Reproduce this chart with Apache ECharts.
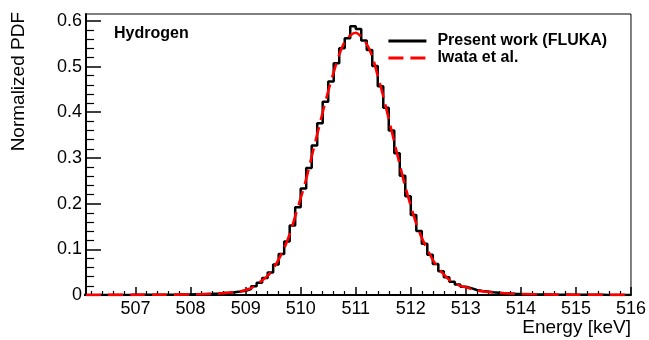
<!DOCTYPE html>
<html>
<head>
<meta charset="utf-8">
<script src="https://cdn.jsdelivr.net/npm/echarts@6/dist/echarts.min.js"></script>
<style>
html,body{margin:0;padding:0;background:#fff;}
#chart{width:649px;height:340px;}
</style>
</head>
<body>
<div id="chart"></div>
<script>
// Histogram bin left edges (keV) and bin contents (Present work, FLUKA)
const binEdges = [506.0,506.1,506.2,506.3,506.4,506.5,506.6,506.7,506.8,506.9,
  507.0,507.1,507.2,507.3,507.4,507.5,507.6,507.7,507.8,507.9,
  508.0,508.1,508.2,508.3,508.4,508.5,508.6,508.7,508.8,508.9,
  509.0,509.1,509.2,509.3,509.4,509.5,509.6,509.7,509.8,509.9,
  510.0,510.1,510.2,510.3,510.4,510.5,510.6,510.7,510.8,510.9,
  511.0,511.1,511.2,511.3,511.4,511.5,511.6,511.7,511.8,511.9,
  512.0,512.1,512.2,512.3,512.4,512.5,512.6,512.7,512.8,512.9,
  513.0,513.1,513.2,513.3,513.4,513.5,513.6,513.7,513.8,513.9,
  514.0,514.1,514.2,514.3,514.4,514.5,514.6,514.7,514.8,514.9,
  515.0,515.1,515.2,515.3,515.4,515.5,515.6,515.7,515.8,515.9,516.0];
const flukaValues = [0.0000,0.0000,0.0001,0.0001,0.0001,0.0001,0.0002,0.0002,0.0002,0.0003,
  0.0003,0.0004,0.0004,0.0005,0.0006,0.0007,0.0008,0.0009,0.0011,0.0013,
  0.0016,0.0019,0.0023,0.0028,0.0034,0.0042,0.0050,0.0062,0.0076,0.0094,
  0.013,0.019,0.027,0.037,0.049,0.067,0.090,0.117,0.152,0.192,
  0.233,0.278,0.327,0.376,0.423,0.467,0.507,0.540,0.562,0.588,
  0.582,0.557,0.536,0.501,0.457,0.410,0.360,0.310,0.261,0.216,
  0.175,0.140,0.112,0.088,0.068,0.052,0.039,0.029,0.023,0.018,
  0.015,0.011,0.009,0.0075,0.0060,0.0048,0.0039,0.0032,0.0026,0.0021,
  0.0017,0.0014,0.0012,0.0010,0.0009,0.0008,0.0007,0.0006,0.0005,0.0005,
  0.0004,0.0004,0.0003,0.0003,0.0003,0.0002,0.0002,0.0002,0.0002,0.0002,0.0002];

// Iwata et al. smooth curve
const iwataX = [506.1,506.5,507.0,507.5,508.0,508.2,508.4,508.6,508.8,508.9,
  509.0,509.1,509.2,509.3,509.4,509.5,509.6,509.7,509.8,509.9,
  510.0,510.1,510.2,510.3,510.4,510.5,510.6,510.7,510.8,510.9,
  511.0,511.1,511.2,511.3,511.4,511.5,511.6,511.7,511.8,511.9,
  512.0,512.1,512.2,512.3,512.4,512.5,512.6,512.7,512.8,512.9,
  513.0,513.1,513.2,513.4,513.6,513.8,514.0,514.5,515.0,515.5,516.0];
const iwataY = [0.0001,0.0002,0.0003,0.0006,0.0013,0.0019,0.0028,0.0042,0.0062,0.0075,
  0.011,0.015,0.023,0.032,0.042,0.057,0.078,0.102,0.133,0.172,
  0.212,0.254,0.303,0.352,0.400,0.446,0.488,0.526,0.554,0.568,
  0.574,0.565,0.549,0.522,0.480,0.435,0.385,0.335,0.285,0.237,
  0.195,0.156,0.125,0.100,0.077,0.059,0.045,0.033,0.026,0.020,
  0.017,0.013,0.010,0.0065,0.0045,0.0032,0.0023,0.0011,0.0006,0.0003,0.0002];

// Axis ticks
const xMajorTicks = [507,508,509,510,511,512,513,514,515,516];
const yMajorTicks = [0,0.1,0.2,0.3,0.4,0.5,0.6];
const xRange = [506.1, 516];
const yRange = [0, 0.615];

const xMinorTicks = [];
for (let i = 0; i < 50; i++) {
  const v = Math.round((506.2 + i * 0.2) * 10) / 10;
  if (v > xRange[0] && v < xRange[1] && Math.abs(v - Math.round(v)) > 1e-6) xMinorTicks.push(v);
}
const yMinorTicks = [];
for (let i = 1; i <= 30; i++) {
  const v = Math.round(i * 0.02 * 100) / 100;
  if (v < yRange[1] && Math.abs(v * 10 - Math.round(v * 10)) > 1e-6) yMinorTicks.push(v);
}

const histData = binEdges.map((e, i) => [e, flukaValues[i]]);
const curveData = iwataX.map((x, i) => [x, iwataY[i]]);

const FONT = 'Liberation Sans, Arial, Helvetica, sans-serif';
const chart = echarts.init(document.getElementById('chart'), null, {renderer: 'canvas'});

chart.setOption({
  animation: false,
  backgroundColor: '#fff',
  grid: {left: 86, top: 14, right: 16, bottom: 45, show: true, borderColor: '#000', borderWidth: 1},
  xAxis: [{
    type: 'value', min: xRange[0], max: xRange[1], position: 'bottom',
    axisLine: {show: true, onZero: false, lineStyle: {color: '#000', width: 2}},
    axisTick: {show: true, inside: true, length: 8, customValues: xMajorTicks, lineStyle: {color: '#000', width: 1.5}},
    axisLabel: {show: true, customValues: xMajorTicks, margin: 5, color: '#000', fontFamily: FONT, fontSize: 18,
      formatter: v => String(v)},
    splitLine: {show: false},
    name: 'Energy [keV]', nameLocation: 'end', nameGap: 0,
    nameTextStyle: {align: 'right', verticalAlign: 'top', padding: [23, 0, 0, 0], fontFamily: FONT, fontSize: 19, color: '#000'}
  }, {
    type: 'value', min: xRange[0], max: xRange[1], position: 'bottom',
    axisLine: {show: false},
    axisTick: {show: true, inside: true, length: 4, customValues: xMinorTicks, lineStyle: {color: '#000', width: 1.2}},
    axisLabel: {show: false},
    splitLine: {show: false}
  }],
  yAxis: [{
    type: 'value', min: yRange[0], max: yRange[1], position: 'left',
    axisLine: {show: true, onZero: false, lineStyle: {color: '#000', width: 2}},
    axisTick: {show: true, inside: true, length: 15, customValues: yMajorTicks, lineStyle: {color: '#000', width: 1.5}},
    axisLabel: {show: true, customValues: yMajorTicks, margin: 4, color: '#000', fontFamily: FONT, fontSize: 18,
      formatter: v => String(v)},
    splitLine: {show: false}
  }, {
    type: 'value', min: yRange[0], max: yRange[1], position: 'left',
    axisLine: {show: false},
    axisTick: {show: true, inside: true, length: 8, customValues: yMinorTicks, lineStyle: {color: '#000', width: 1.2}},
    axisLabel: {show: false},
    splitLine: {show: false}
  }],
  legend: {
    show: true, orient: 'vertical', left: 387, top: 33, padding: 0, itemWidth: 38, itemHeight: 14, itemGap: 1,
    itemStyle: {opacity: 0, color: 'rgba(0,0,0,0)', borderColor: 'rgba(0,0,0,0)', borderWidth: 0},
    lineStyle: {width: 2.8},
    textStyle: {fontFamily: FONT, fontWeight: 'bold', fontSize: 16, color: '#000', padding: [0, 0, 0, 6]},
    data: ['Present work (FLUKA)', 'Iwata et al.']
  },
  graphic: [{
    type: 'text', x: 114, y: 34,
    style: {text: 'Hydrogen', font: 'bold 16px ' + FONT, fill: '#000', textAlign: 'left', textVerticalAlign: 'middle'}
  }, {
    type: 'text', x: 18.5, y: 12, rotation: Math.PI / 2,
    style: {text: 'Normalized PDF', font: '19px ' + FONT, fill: '#000', textAlign: 'right', textVerticalAlign: 'middle'}
  }],
  series: [{
    name: 'Present work (FLUKA)', type: 'line', xAxisIndex: 0, yAxisIndex: 0,
    data: histData, step: 'end', showSymbol: false, symbol: 'none', clip: true,
    lineStyle: {color: '#000', width: 2.5}, itemStyle: {color: '#000'}, z: 2
  }, {
    name: 'Iwata et al.', type: 'line', xAxisIndex: 0, yAxisIndex: 0,
    data: curveData, smooth: 0.3, showSymbol: false, symbol: 'none', clip: true,
    lineStyle: {color: '#ff0000', width: 2.6, type: [15, 7]}, itemStyle: {color: '#ff0000'}, z: 3
  }]
});
</script>
</body>
</html>
